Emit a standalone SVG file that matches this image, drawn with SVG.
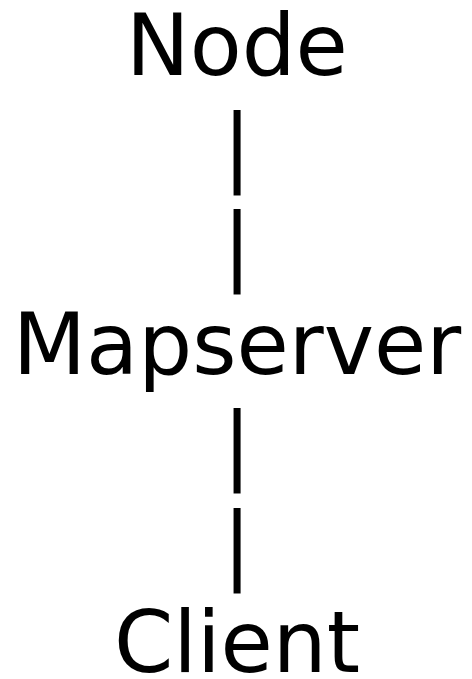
<svg xmlns="http://www.w3.org/2000/svg" width="472" height="679" viewBox="0 0 472 679">
<style>
text{font-family:"DejaVu Sans",sans-serif;font-size:85px;fill:#000;text-anchor:middle}
</style>
<rect width="472" height="679" fill="#fff"/>
<g id="node"><text x="237" y="75">Node</text></g>
<g id="connectors">
<text x="237" y="175">|</text>
<text x="237" y="274">|</text>
<text x="237" y="473">|</text>
<text x="237" y="573">|</text>
</g>
<g id="mapserver"><text x="237" y="374">Mapserver</text></g>
<g id="client"><text x="237" y="672">Client</text></g>
</svg>
